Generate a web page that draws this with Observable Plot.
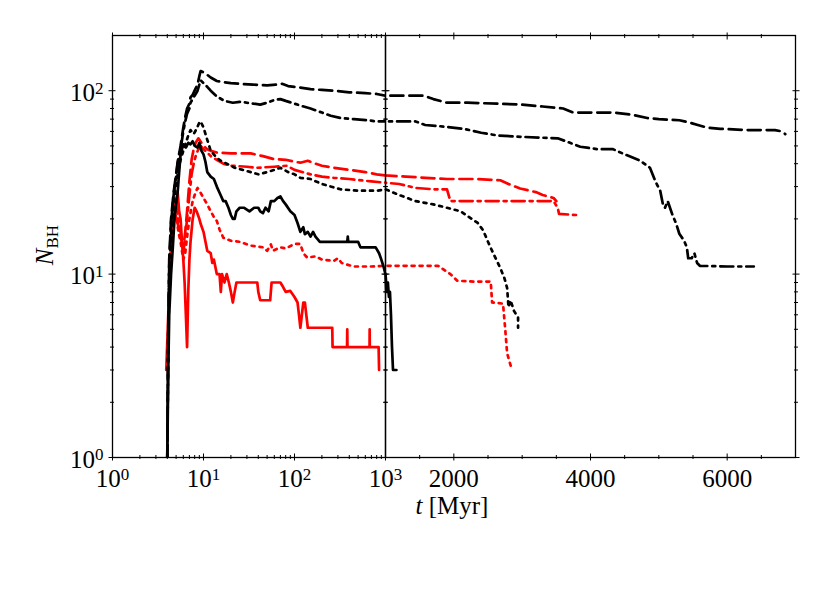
<!DOCTYPE html>
<html>
<head>
<meta charset="utf-8">
<script src="https://cdn.jsdelivr.net/npm/d3@7"></script>
<script src="https://cdn.jsdelivr.net/npm/@observablehq/plot@0.6"></script>
<style>
  html, body { margin: 0; padding: 0; background: white; }
  #wrap { position: relative; width: 830px; height: 593px; background: white; overflow: hidden; font-family: "Liberation Serif", serif; }
  #wrap svg { position: absolute; top: 0; max-width: none; overflow: visible; }
  #wrap svg text { font-family: "Liberation Serif", serif !important; font-size: 25px !important; fill: black; }
  .lab { position: absolute; font-family: "Liberation Serif", serif; font-size: 25px; color: black; white-space: nowrap; }
</style>
</head>
<body>
<div id="wrap"></div>
<script>
// ---------- data: [t (Myr), N_BH] ----------
const blackSolid = [[4.0,1],[4.1,3],[4.2,6],[4.4,10],[4.6,14],[4.8,20],[5.0,24],[5.2,28],[5.4,36],[5.6,45],[5.8,48],[6.0,51],[6.4,49],[6.8,52],[7.2,51],[7.6,53],[8.0,50],[8.6,49],[9.0,52],[9.5,47],[10,45],[10.5,41],[11,36],[12,34],[13,33],[14,30],[15.4,27],[16.5,25],[17.5,25],[18.8,23],[20,21],[21,20],[22,20],[23,22],[25,23],[28,23],[32,22],[36,23],[40,23],[42,22],[45,21.5],[48,23],[52,22],[55,25],[60,25],[65,26],[70,26.5],[75,25],[80,24],[90,22],[100,21],[108,19],[116,17],[125,18],[130,16.5],[140,17],[150,16],[160,17],[170,16],[190,15],[236,15],[300,15],[380,15],[385,16],[390,15],[500,15],[530,14],[600,14],[700,14],[780,14],[850,13],[900,12],[950,11],[1000,10],[1020,8],[1035,9],[1050,7.5],[1065,8],[1080,6],[1095,4],[1110,3],[1160,3]];
const blackDashed = [[4.0,1],[4.1,5],[4.2,12],[4.4,20],[4.7,28],[5.0,35],[5.2,41],[5.6,50],[6.0,63],[6.3,72],[6.6,80],[7.0,85],[7.2,92],[7.6,95],[8.2,103],[8.6,108],[9.0,120],[9.3,128],[10,126],[11,122],[12,118],[14,113],[17,111],[20,110],[25,109],[35,108],[50,107],[65,108],[73,109],[85,106],[100,105],[116,104],[150,102],[200,101],[270,100],[400,98],[600,97],[800,96],[1000,94],[1300,94],[1560,94],[1700,90],[1900,86],[2200,86],[2640,85],[3000,84],[3300,82],[3600,80],[3750,76],[4000,76],[4330,76],[4600,74],[4830,71],[5000,70],[5300,69],[5450,67],[5570,65],[5700,63],[5900,62],[6300,61],[6700,61],[6800,60],[6850,58]];
const blackDashDot = [[4.0,1],[4.1,5],[4.2,11],[4.4,19],[4.7,27],[5.0,34],[5.2,40],[5.6,48],[6.0,60],[6.3,68],[6.6,75],[7.0,80],[7.2,86],[7.6,90],[8.2,96],[8.6,100],[9.0,108],[9.3,114],[10,110],[11,105],[12,100],[14,93],[17,88],[21,86],[25,87],[30,86],[42,84],[50,86],[60,89],[70,90],[80,88],[100,85],[116,83],[150,80],[200,76],[250,73],[320,71],[450,70],[630,69],[800,68],[1000,68],[1200,68],[1440,68],[1580,65],[1800,64],[2140,62],[2400,59],[2640,57],[3000,56],[3520,55],[3700,52],[3850,49.5],[4100,48],[4330,48],[4500,45],[4730,41.5],[4870,38],[4950,32],[5020,28.5],[5060,24],[5090,23],[5130,25],[5200,21],[5250,19],[5300,16.6],[5370,15.2],[5410,14],[5430,12.2],[5480,12.2],[5520,13],[5560,11.5],[5600,11.1],[6000,11],[6390,11]];
const blackDotted = [[4.0,1],[4.1,4],[4.2,9],[4.4,16],[4.7,24],[5.0,31],[5.3,37],[5.6,42],[6.0,47],[6.4,52],[6.8,57],[7.2,61],[7.8,58],[8.4,62],[9.0,67],[9.3,68],[10,63],[11,54],[12,47],[14,43],[16,41],[18,40],[22,38],[27,37],[33,36],[40,35],[50,36],[60,37],[70,38],[85,36],[100,35],[116,33.5],[150,33],[200,31],[320,29],[500,28.5],[810,28.5],[1000,29],[1200,27],[1440,25],[1700,24],[1900,23],[2100,22],[2350,19],[2430,17.3],[2500,15],[2580,12.9],[2680,10.8],[2740,9.5],[2780,8.4],[2800,6.6],[2830,7.2],[2880,6.3],[2940,5.8],[2940,5.1]];
const redSolid = [[3.9,3],[4.1,6],[4.3,10],[4.5,14],[4.6,17],[4.8,22],[5.0,25],[5.2,28],[5.4,22],[5.6,20],[5.8,15],[6.0,12],[6.2,9],[6.4,6],[6.6,4],[6.8,8],[7.0,12],[7.2,15],[7.6,20],[8.0,23],[8.4,22],[9.0,20],[9.3,18.8],[10,17],[11,13.4],[12,13],[12.5,11.5],[13,12],[14,10],[15,10],[15.5,8],[16,10],[17,9],[18,10],[19,9],[20,8],[21,7],[22,8],[23,9],[27,9],[30,9],[35,9],[39,9],[40,8],[42,7.2],[50,7.2],[54,7.2],[56,9],[70,9],[75,8.5],[80,8],[90,8.1],[100,7.5],[108,7],[112,6],[116,5.1],[125,7],[130,7],[140,5.1],[150,5.1],[160,5.1],[260,5.1],[262,4],[378,4],[380,5],[382,4],[668,4],[670,5],[672,4],[840,4],[850,3]];
const redDashed = [[4.3,14],[4.5,20],[4.7,24],[5.0,21],[5.3,18],[5.6,16],[6.0,14],[6.3,17],[6.6,22],[7.0,32],[7.4,42],[7.8,48],[8.2,52],[8.8,55],[9.5,52],[10,50],[11,48],[12,47],[14,46],[20,45.5],[33,45.5],[45,44],[58,42.5],[80,42],[100,41],[116,40.5],[140,41.5],[170,40],[200,39],[270,38],[400,37],[600,36],[800,35],[1000,34.5],[1300,34],[1900,33],[2300,33],[2680,32.5],[2800,31],[2970,29.3],[3200,28],[3300,27],[3460,26],[3500,25]];
const redDashDot = [[4.3,12],[4.5,17],[4.7,21],[5.0,24],[5.3,20],[5.6,17],[6.0,13],[6.3,16],[6.6,20],[7.0,27],[7.4,35],[7.8,40],[8.3,45],[8.8,48],[9.3,50],[10,48],[11,46],[12,44],[14,42],[16.5,40],[20,39],[30,38.5],[39,38],[60,38.5],[83,39],[100,37],[150,35],[200,34],[270,33.5],[400,33],[700,32],[1000,31.5],[1200,31],[1440,29.5],[1700,29],[1900,29],[1950,25],[2500,25],[3000,25],[3460,25],[3520,23],[3540,21.3],[3790,21]];
const redDotted = [[4.3,10],[4.5,15],[4.7,19],[5.0,21],[5.3,17],[5.6,15],[6.0,12],[6.3,13],[6.6,16],[7.0,20],[7.6,25],[8.2,28],[8.6,29.5],[9.2,28],[10,26],[11,24],[12,22],[13,20.5],[14,19.5],[15,17.5],[16.5,15.8],[20,15.2],[25,15],[33,14.3],[45,14],[50,13.4],[55,14.5],[58,13.4],[70,14],[80,13.8],[100,14.6],[116,14.6],[125,13],[138,12.3],[170,12.5],[200,12],[270,11.8],[300,12.2],[330,11.5],[445,11],[700,11],[1000,11.1],[1500,11.1],[1770,11.1],[1950,10],[2050,9.2],[2300,9.1],[2540,9.1],[2560,7],[2720,6.9],[2750,5.1],[2780,3.7],[2850,3]];

// ---------- ticks ----------
const leftMajorX = [1, 10, 100, 1000];
const leftMinorX = [2,3,4,5,6,7,8,9,20,30,40,50,60,70,80,90,200,300,400,500,600,700,800,900];
const rightMajorX = [2000, 4000, 6000];
const rightMinorX = [1500, 2500, 3000, 3500, 4500, 5000, 5500, 6500];
const yMajor = [1, 10, 100];
const yMinor = [2,3,4,5,6,7,8,9,20,30,40,50,60,70,80,90];

const series = [
  {data: redSolid,    color: "#ff0000", dash: null},
  {data: redDashed,   color: "#ff0000", dash: "13,6"},
  {data: redDashDot,  color: "#ff0000", dash: "13,5,3,5"},
  {data: redDotted,   color: "#ff0000", dash: "3,5"},
  {data: blackSolid,  color: "#000000", dash: null},
  {data: blackDashed, color: "#000000", dash: "13,6"},
  {data: blackDashDot,color: "#000000", dash: "13,5,3,5"},
  {data: blackDotted, color: "#000000", dash: "3,5"}
];

const H = 593, MT = 35, MB = 593 - 457;
const FONT = "'Liberation Serif', serif";
const pow = d => "10^" + Math.round(Math.log10(d));

function lineMarks() {
  return series.map(s => Plot.line(s.data, {
    x: d => d[0], y: d => d[1], stroke: s.color, strokeWidth: 2.7,
    strokeDasharray: s.dash, clip: true
  }));
}

function tickMarks(xMajor, xMinor) {
  const M = 7, m = 4;
  return [
    Plot.axisX({anchor: "bottom", ticks: xMajor, tickSize: M, dy: -M/2, text: null, label: null}),
    Plot.axisX({anchor: "bottom", ticks: xMinor, tickSize: m, dy: -m/2, text: null, label: null}),
    Plot.axisX({anchor: "top", ticks: xMajor, tickSize: M, dy: M/2, text: null, label: null}),
    Plot.axisX({anchor: "top", ticks: xMinor, tickSize: m, dy: m/2, text: null, label: null}),
    Plot.axisY({anchor: "left", ticks: yMajor, tickSize: M, dx: M/2, text: null, label: null}),
    Plot.axisY({anchor: "left", ticks: yMinor, tickSize: m, dx: m/2, text: null, label: null}),
    Plot.axisY({anchor: "right", ticks: yMajor, tickSize: M, dx: -M/2, text: null, label: null}),
    Plot.axisY({anchor: "right", ticks: yMinor, tickSize: m, dx: -m/2, text: null, label: null})
  ];
}

const left = Plot.plot({
  width: 385, height: H, marginLeft: 112, marginRight: 0, marginTop: MT, marginBottom: MB,
  style: {fontFamily: FONT, fontSize: "25px", background: "transparent", color: "black"},
  x: {type: "log", domain: [1, 1000]},
  y: {type: "log", domain: [1, 200]},
  marks: [
    ...lineMarks(),
    ...tickMarks(leftMajorX, leftMinorX),
    Plot.axisX({anchor: "bottom", ticks: leftMajorX, tickSize: 0, tickPadding: 12, tickFormat: pow, label: null, fontSize: 25, fontFamily: FONT}),
    Plot.axisY({anchor: "left", ticks: yMajor, tickSize: 0, tickPadding: 9, tickFormat: pow, label: null, fontSize: 25, fontFamily: FONT, dy: 2}),
    Plot.frame({stroke: "black", strokeWidth: 1.3})
  ]
});

const right = Plot.plot({
  width: 445, height: H, marginLeft: 0, marginRight: 35, marginTop: MT, marginBottom: MB,
  style: {fontFamily: FONT, fontSize: "25px", background: "transparent", color: "black"},
  x: {type: "linear", domain: [1000, 7000]},
  y: {type: "log", domain: [1, 200]},
  marks: [
    ...lineMarks(),
    ...tickMarks(rightMajorX, rightMinorX),
    Plot.axisX({anchor: "bottom", ticks: rightMajorX, tickSize: 0, tickPadding: 12, tickFormat: d => String(d), label: null, fontSize: 25, fontFamily: FONT}),
    Plot.frame({stroke: "black", strokeWidth: 1.3})
  ]
});

// superscripts for 10^k labels, and serif font on every text
function finish(svg) {
  d3.select(svg).selectAll("text").attr("font-family", "Liberation Serif").each(function() {
    const s = this.textContent;
    const m = s.match(/^10\^(\d)$/);
    if (m) {
      const el = d3.select(this);
      el.text("10");
      el.append("tspan").attr("dy", "-0.42em").style("font-size", "17px").text(m[1]);
    }
  });
}
finish(left);
finish(right);

const wrap = document.getElementById("wrap");
left.style.left = "0px";
right.style.left = "385px";
wrap.appendChild(right);
wrap.appendChild(left);

const yl = document.createElement("div");
yl.className = "lab";
yl.style.left = "45px"; yl.style.top = "245px";
yl.style.transform = "translate(-50%,-50%) rotate(-90deg)";
yl.innerHTML = '<i>N</i><span style="font-size:0.68em;position:relative;top:0.3em">BH</span>';
wrap.appendChild(yl);

const xl = document.createElement("div");
xl.className = "lab";
xl.style.left = "452px"; xl.style.top = "506px";
xl.style.transform = "translate(-50%,-50%)";
xl.innerHTML = '<i>t</i> [Myr]';
wrap.appendChild(xl);
</script>
</body>
</html>
